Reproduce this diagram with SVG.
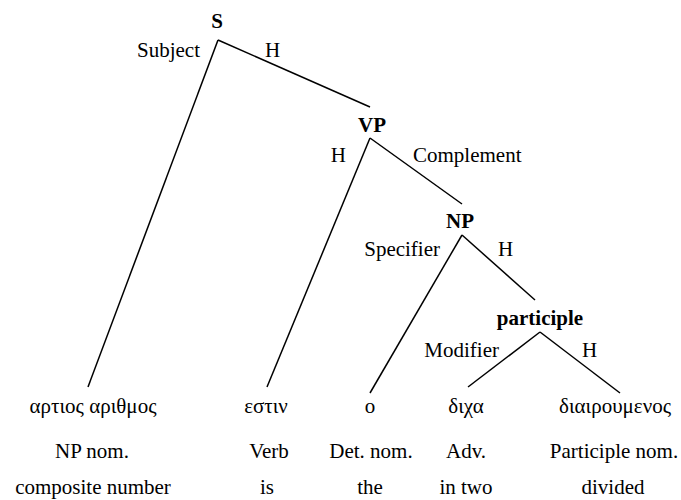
<svg xmlns="http://www.w3.org/2000/svg" width="681" height="500" viewBox="0 0 681 500">
<style>
text{font-family:"Liberation Serif","Times New Roman",serif;font-size:21px;fill:#000}
.n{font-weight:bold;text-anchor:middle}
.m{text-anchor:middle}
.e{text-anchor:end}
line{stroke:#000;stroke-width:1.5}
</style>
<rect width="681" height="500" fill="#fff"/>
<g id="connectors">
<line x1="218" y1="40" x2="88" y2="387"/>
<line x1="218" y1="40" x2="370" y2="107"/>
<line x1="370" y1="138" x2="267" y2="387"/>
<line x1="370" y1="138" x2="462" y2="204"/>
<line x1="462" y1="235" x2="370" y2="393"/>
<line x1="462" y1="235" x2="535" y2="300"/>
<line x1="540" y1="332" x2="468" y2="387"/>
<line x1="540" y1="332" x2="620" y2="393"/>
</g>
<g id="labels">
<text x="200" y="57" class="e">Subject</text>
<text x="265" y="57">H</text>
<text x="346" y="162" class="e">H</text>
<text x="413" y="162">Complement</text>
<text x="440" y="256" class="e">Specifier</text>
<text x="498" y="256">H</text>
<text x="499" y="357" class="e">Modifier</text>
<text x="582" y="357">H</text>
</g>
<g id="S"><text x="217" y="28" class="n">S</text></g>
<g id="VP"><text x="372" y="132" class="n">VP</text></g>
<g id="NP"><text x="460" y="228" class="n">NP</text></g>
<g id="participle"><text x="540" y="325" class="n">participle</text></g>
<g id="w1">
<text x="93" y="413" class="m">αρτιος αριθμος</text>
<text x="92" y="458" class="m">NP nom.</text>
<text x="93" y="494" class="m">composite number</text>
</g>
<g id="w2">
<text x="266" y="413" class="m">εστιν</text>
<text x="269" y="458" class="m">Verb</text>
<text x="267" y="494" class="m">is</text>
</g>
<g id="w3">
<text x="370" y="413" class="m">ο</text>
<text x="371" y="458" class="m">Det. nom.</text>
<text x="370" y="494" class="m">the</text>
</g>
<g id="w4">
<text x="466" y="413" class="m">διχα</text>
<text x="466" y="458" class="m">Adv.</text>
<text x="466" y="494" class="m">in two</text>
</g>
<g id="w5">
<text x="615" y="413" class="m">διαιρουμενος</text>
<text x="614" y="458" class="m">Participle nom.</text>
<text x="613" y="494" class="m">divided</text>
</g>
</svg>
